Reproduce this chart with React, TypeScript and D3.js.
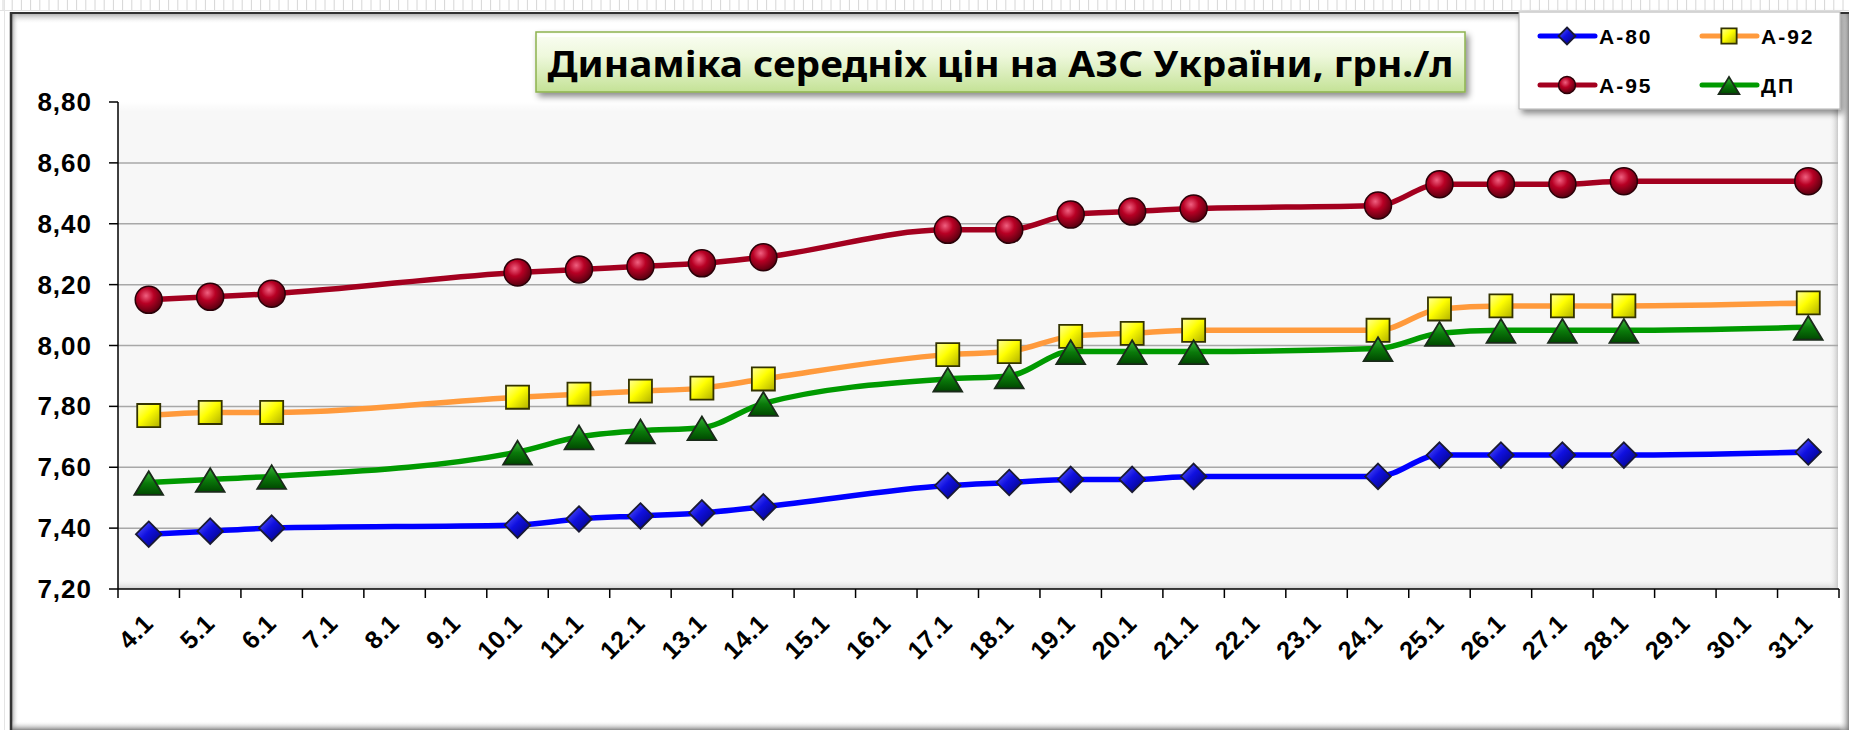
import React, { useEffect, useRef } from 'react';
import * as d3 from 'd3';

// all calendar days on the date axis
const days = ['4.1', '5.1', '6.1', '7.1', '8.1', '9.1', '10.1', '11.1', '12.1', '13.1', '14.1', '15.1', '16.1', '17.1',
  '18.1', '19.1', '20.1', '21.1', '22.1', '23.1', '24.1', '25.1', '26.1', '27.1', '28.1', '29.1', '30.1', '31.1'];
// days that have observations
const obsDays = ['4.1', '5.1', '6.1', '10.1', '11.1', '12.1', '13.1', '14.1', '17.1', '18.1', '19.1', '20.1', '21.1',
  '24.1', '25.1', '26.1', '27.1', '28.1', '31.1'];

const a80 = [7.38, 7.39, 7.40, 7.41, 7.43, 7.44, 7.45, 7.47, 7.54, 7.55, 7.56, 7.56, 7.57, 7.57, 7.64, 7.64, 7.64, 7.64, 7.65];
const a92 = [7.77, 7.78, 7.78, 7.83, 7.84, 7.85, 7.86, 7.89, 7.97, 7.98, 8.03, 8.04, 8.05, 8.05, 8.12, 8.13, 8.13, 8.13, 8.14];
const a95 = [8.15, 8.16, 8.17, 8.24, 8.25, 8.26, 8.27, 8.29, 8.38, 8.38, 8.43, 8.44, 8.45, 8.46, 8.53, 8.53, 8.53, 8.54, 8.54];
const dp = [7.55, 7.56, 7.57, 7.65, 7.70, 7.72, 7.73, 7.81, 7.89, 7.90, 7.98, 7.98, 7.98, 7.99, 8.04, 8.05, 8.05, 8.05, 8.06];

const yTicks = [7.2, 7.4, 7.6, 7.8, 8.0, 8.2, 8.4, 8.6, 8.8];
const title = 'Динаміка середніх цін на АЗС України, грн./л';

const series = [
  { name: 'А-80', values: a80, color: '#0000ff', marker: 'diamond', grad: 'gBlue', stroke: '#1a1a33' },
  { name: 'А-92', values: a92, color: '#ff9a3c', marker: 'square', grad: 'gYellow', stroke: '#333300' },
  { name: 'А-95', values: a95, color: '#a3001f', marker: 'circle', grad: 'gRed', stroke: '#2a0008' },
  { name: 'ДП', values: dp, color: '#009a00', marker: 'triangle', grad: 'gGreen', stroke: '#1a2a1a' },
];

const W = 1849;
const H = 730;

function markerPath(type: string, s: number) {
  if (type === 'diamond') return `M0,${-s}L${s},0L0,${s}L${-s},0Z`;
  if (type === 'square') { const h = s * 0.9; return `M${-h},${-h}H${h}V${h}H${-h}Z`; }
  if (type === 'triangle') return `M0,${-s * 0.9}L${s * 1.15},${s}L${-s * 1.15},${s}Z`;
  return '';
}

function drawMarker(g: any, type: string, x: number, y: number, s: number, grad: string, stroke: string) {
  if (type === 'circle') {
    g.append('circle').attr('cx', x).attr('cy', y).attr('r', s)
      .attr('fill', `url(#${grad})`).attr('stroke', stroke).attr('stroke-width', 1.5);
  } else {
    g.append('path').attr('d', markerPath(type, s)).attr('transform', `translate(${x},${y})`)
      .attr('fill', `url(#${grad})`).attr('stroke', stroke).attr('stroke-width', 1.8)
      .attr('stroke-linejoin', 'miter');
  }
}

const App = () => {
  const svgRef = useRef<SVGSVGElement>(null);

  useEffect(() => {
    const svg = d3.select(svgRef.current);
    svg.selectAll('*').remove();

    const plot = { left: 118, right: 1839, top: 102, bottom: 589 };

    const x = d3.scaleBand().domain(days).range([plot.left, plot.right]).padding(0);
    const cx = (d: string) => (x(d) as number) + x.bandwidth() / 2;
    const y = d3.scaleLinear().domain([7.2, 8.8]).range([plot.bottom, plot.top]);

    const defs = svg.append('defs');
    const lin = (id: string, x2: number, y2: number, stops: [number, string, number][]) => {
      const g = defs.append('linearGradient').attr('id', id)
        .attr('x1', 0).attr('y1', 0).attr('x2', x2).attr('y2', y2);
      stops.forEach(([o, c, op]) => g.append('stop').attr('offset', o).attr('stop-color', c).attr('stop-opacity', op));
    };
    lin('gBlue', 1, 1, [[0, '#6a6aff', 1], [0.45, '#1010e0', 1], [1, '#000070', 1]]);
    lin('gYellow', 1, 1, [[0, '#ffff99', 1], [0.45, '#ffff00', 1], [1, '#b0b000', 1]]);
    lin('gGreen', 0, 1, [[0, '#3cb43c', 1], [0.5, '#0a7a0a', 1], [1, '#004800', 1]]);
    const rg = defs.append('radialGradient').attr('id', 'gRed').attr('cx', '40%').attr('cy', '35%').attr('r', '65%');
    rg.append('stop').attr('offset', 0).attr('stop-color', '#f06080');
    rg.append('stop').attr('offset', 0.45).attr('stop-color', '#b80024');
    rg.append('stop').attr('offset', 1).attr('stop-color', '#5a0010');
    lin('gTitle', 0, 1, [[0, '#fbfef4', 1], [0.4, '#eef8dc', 1], [1, '#c4e296', 1]]);
    lin('gTop', 0, 1, [[0, '#8a8a8a', 0.9], [1, '#ffffff', 0]]);
    lin('gLeft', 1, 0, [[0, '#6a6a6a', 0.9], [1, '#ffffff', 0]]);
    lin('gBottom', 0, 1, [[0, '#ffffff', 0], [1, '#7a7a7a', 0.9]]);
    lin('gRight', 1, 0, [[0, '#ffffff', 0], [1, '#7a7a7a', 0.9]]);
    lin('gPlotBottom', 0, 1, [[0, '#f7f7f7', 0], [1, '#cfcfcf', 1]]);
    lin('gPlotRight', 1, 0, [[0, '#f7f7f7', 0], [1, '#c8c8c8', 1]]);
    lin('gPlotTop', 0, 1, [[0, '#ffffff', 1], [1, '#ffffff', 0]]);

    const shadow = defs.append('filter').attr('id', 'shadow')
      .attr('x', '-10%').attr('y', '-20%').attr('width', '130%').attr('height', '160%');
    shadow.append('feDropShadow').attr('dx', 3).attr('dy', 4).attr('stdDeviation', 3)
      .attr('flood-color', '#000').attr('flood-opacity', 0.45);

    // worksheet background
    svg.append('rect').attr('width', W).attr('height', H).attr('fill', '#ffffff');
    const cells = svg.append('g');
    d3.range(3, W, 9.2).forEach((gx: number) => {
      cells.append('line').attr('x1', gx).attr('x2', gx).attr('y1', 0).attr('y2', 11)
        .attr('stroke', '#d6d6d6').attr('stroke-width', 1);
    });
    cells.append('line').attr('x1', 0).attr('x2', W).attr('y1', 10.5).attr('y2', 10.5).attr('stroke', '#e2e2e2');
    cells.append('line').attr('x1', 4.5).attr('x2', 4.5).attr('y1', 0).attr('y2', H).attr('stroke', '#e4e4e4');

    // chart area frame with inner shadow
    const fx = 10, fy = 12, fw = W - fx + 2, fh = H - fy + 2;
    svg.append('rect').attr('x', fx).attr('y', fy).attr('width', fw).attr('height', fh).attr('fill', '#ffffff');
    svg.append('rect').attr('x', fx).attr('y', fy).attr('width', fw).attr('height', 12).attr('fill', 'url(#gTop)');
    svg.append('rect').attr('x', fx).attr('y', fy).attr('width', 9).attr('height', fh).attr('fill', 'url(#gLeft)');
    svg.append('rect').attr('x', fx).attr('y', H - 9).attr('width', fw).attr('height', 9).attr('fill', 'url(#gBottom)');
    svg.append('rect').attr('x', W - 10).attr('y', fy).attr('width', 10).attr('height', fh).attr('fill', 'url(#gRight)');
    svg.append('line').attr('x1', fx).attr('x2', W).attr('y1', fy + 1).attr('y2', fy + 1)
      .attr('stroke', '#333').attr('stroke-width', 2);
    svg.append('line').attr('x1', fx + 1).attr('x2', fx + 1).attr('y1', fy).attr('y2', H)
      .attr('stroke', '#333').attr('stroke-width', 2.5);

    // plot area with bevel
    const pw = 1838 - plot.left;
    const ph = plot.bottom - plot.top;
    svg.append('rect').attr('x', plot.left).attr('y', plot.top).attr('width', pw).attr('height', ph).attr('fill', '#f7f7f7');
    svg.append('rect').attr('x', plot.left).attr('y', plot.top).attr('width', pw).attr('height', 10).attr('fill', 'url(#gPlotTop)');
    svg.append('rect').attr('x', plot.left).attr('y', plot.bottom - 10).attr('width', pw).attr('height', 10).attr('fill', 'url(#gPlotBottom)');
    svg.append('rect').attr('x', 1838 - 9).attr('y', plot.top).attr('width', 9).attr('height', ph).attr('fill', 'url(#gPlotRight)');

    // gridlines
    svg.append('g').selectAll('line')
      .data(yTicks.filter(t => t > 7.2 && t < 8.8))
      .enter().append('line')
      .attr('x1', plot.left).attr('x2', 1838)
      .attr('y1', d => y(d)).attr('y2', d => y(d))
      .attr('stroke', '#a8a8a8').attr('stroke-width', 1.5);

    // y axis
    const yAxis = svg.append('g');
    yAxis.append('line').attr('x1', plot.left).attr('x2', plot.left).attr('y1', plot.top).attr('y2', plot.bottom)
      .attr('stroke', '#000').attr('stroke-width', 1.5);
    yAxis.selectAll('line.tick').data(yTicks).enter().append('line').attr('class', 'tick')
      .attr('x1', plot.left - 9).attr('x2', plot.left).attr('y1', d => y(d)).attr('y2', d => y(d))
      .attr('stroke', '#000').attr('stroke-width', 1.5);
    yAxis.selectAll('text').data(yTicks).enter().append('text')
      .attr('x', 92).attr('y', d => y(d) + 9)
      .attr('text-anchor', 'end')
      .style('font-family', '"Liberation Sans", Arial, sans-serif')
      .style('font-size', '26px').style('font-weight', 'bold').style('letter-spacing', '1px')
      .text(d => d3.format('.2f')(d).replace('.', ','));

    // x axis
    const xAxis = svg.append('g');
    xAxis.append('line').attr('x1', plot.left).attr('x2', plot.right).attr('y1', plot.bottom).attr('y2', plot.bottom)
      .attr('stroke', '#000').attr('stroke-width', 1.5);
    const edges = days.map(d => x(d) as number).concat([plot.right]);
    xAxis.selectAll('line.tick').data(edges).enter().append('line').attr('class', 'tick')
      .attr('x1', d => d).attr('x2', d => d).attr('y1', plot.bottom).attr('y2', plot.bottom + 9)
      .attr('stroke', '#000').attr('stroke-width', 1.5);
    xAxis.selectAll('text').data(days).enter().append('text')
      .attr('transform', d => `translate(${cx(d) + 6},${plot.bottom + 36}) rotate(-45)`)
      .attr('text-anchor', 'end')
      .style('font-family', '"Liberation Sans", Arial, sans-serif')
      .style('font-size', '25px').style('font-weight', 'bold').style('letter-spacing', '0.5px')
      .text(d => d);

    // lines and markers
    const line = d3.line<number>()
      .x((_, i) => cx(obsDays[i]))
      .y(d => y(d))
      .curve(d3.curveMonotoneX);

    series.forEach(s => {
      svg.append('path').datum(s.values).attr('d', line)
        .attr('fill', 'none').attr('stroke', s.color).attr('stroke-width', 5.5)
        .attr('stroke-linejoin', 'round').attr('stroke-linecap', 'round');
    });
    series.forEach(s => {
      const g = svg.append('g');
      const size = s.marker === 'circle' ? 13.5 : s.marker === 'triangle' ? 12.5 : 12.8;
      s.values.forEach((v, i) => drawMarker(g, s.marker, cx(obsDays[i]), y(v), size, s.grad, s.stroke));
    });

    // title box
    const tb = svg.append('g');
    tb.append('rect').attr('x', 536).attr('y', 32).attr('width', 929).attr('height', 60)
      .attr('fill', 'url(#gTitle)').attr('stroke', '#8db34f').attr('stroke-width', 1.5)
      .attr('filter', 'url(#shadow)');
    tb.append('rect').attr('x', 538).attr('y', 34).attr('width', 925).attr('height', 3).attr('fill', '#ffffff').attr('opacity', 0.8);
    tb.append('text').attr('x', 1000.5).attr('y', 77).attr('text-anchor', 'middle')
      .attr('textLength', 906).attr('lengthAdjust', 'spacingAndGlyphs')
      .style('font-family', '"Noto Sans", "Open Sans", sans-serif')
      .style('font-size', '36px').style('font-weight', 'bold').attr('fill', '#000')
      .text(title);

    // legend
    const lg = svg.append('g');
    lg.append('rect').attr('x', 1519).attr('y', 12).attr('width', 321).attr('height', 97)
      .attr('fill', '#ffffff').attr('stroke', '#b0b0b0').attr('stroke-width', 1)
      .attr('filter', 'url(#shadow)');
    const pos = [[1540, 36], [1702, 36], [1540, 85], [1702, 85]];
    series.forEach((s, i) => {
      const [lx, ly] = pos[i];
      lg.append('line').attr('x1', lx).attr('x2', lx + 55).attr('y1', ly).attr('y2', ly)
        .attr('stroke', s.color).attr('stroke-width', 5).attr('stroke-linecap', 'round');
      const ms = s.marker === 'circle' ? 8.5 : s.marker === 'triangle' ? 9 : 8.5;
      drawMarker(lg, s.marker, lx + 27, ly, ms, s.grad, s.stroke);
      lg.append('text').attr('x', lx + 59).attr('y', ly + 8)
        .style('font-family', '"Liberation Sans", Arial, sans-serif')
        .style('font-size', '21px').style('font-weight', 'bold').style('letter-spacing', '2px')
        .text(s.name);
    });
  }, []);

  return (
    <svg ref={svgRef} width={W} height={H}
      style={{ position: 'absolute', left: 0, top: 0, display: 'block' }} />
  );
};

export default App;
